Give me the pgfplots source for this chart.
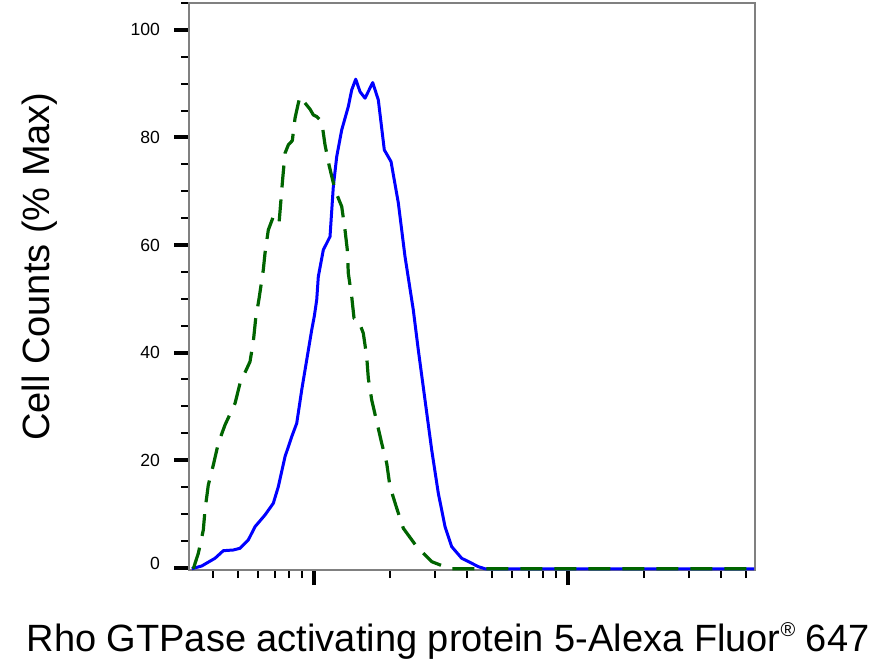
\documentclass[border=0pt]{standalone}
\usepackage{fontspec}
\setmainfont{Liberation Sans}
\usepackage{pgfplots}
\pgfplotsset{compat=1.18}
\definecolor{axgray}{RGB}{128,128,128}
\definecolor{dgreen}{RGB}{0,100,0}
\definecolor{pblue}{RGB}{0,0,255}
\begin{document}
\begin{tikzpicture}
\useasboundingbox (-94.5pt,-47pt) rectangle (346.5pt,285pt);
\begin{axis}[
  at={(0,0)}, anchor=south west,
  scale only axis, width=283pt, height=283.5pt,
  xmode=log, xmin=322, xmax=54480,
  ymin=-0.43, ymax=105,
  axis line style={axgray, line width=1pt},
  tick align=outside,
  tick pos=left,
  xtick={1000,10000},
  minor xtick={400,500,600,700,800,900,2000,3000,4000,5000,6000,7000,8000,9000,20000,30000,40000,50000},
  xticklabel=\empty,
  ytick={0,20,40,60,80,100},
  yticklabels={\raisebox{4.5pt}{0},20,40,60,80,100},
  minor ytick={5,10,15,25,30,35,45,50,55,65,70,75,85,90,95,105},
  major tick length=7.5pt, minor tick length=4pt,
  major tick style={black, line width=2pt},
  minor tick style={black, line width=1pt},
  yticklabel style={font=\fontsize{8.8}{10}\selectfont, xshift=-3.5pt},
  clip=false,
]
\addplot[pblue, line width=1.5pt, line join=round] coordinates {
(330,-0.2) (361.4,0.32) (407.6,1.75) (439.4,3.16) (481.2,3.29) (511.3,3.61)
(551.1,5.15) (585.7,7.62) (641.3,9.80) (691.5,11.98) (723.5,15.06) (768.8,20.64)
(817.0,24.36) (855.0,26.86) (894.6,33.05) (936.0,38.63) (979.3,44.21) (1003,46.8)
(1024.7,49.79) (1039.7,54.12) (1087.9,59.08) (1156.1,61.56) (1191.2,70.86)
(1228.5,76.44) (1285.5,81.40) (1364.6,85.74) (1407.4,88.84) (1459.5,90.83)
(1517.5,88.5) (1587.9,87.30) (1702.6,90.20) (1791.2,86.98) (1891.5,77.68)
(2010,75.51) (2147.3,67.83) (2281.8,57.84) (2459.7,47.93) (2573.8,40.49)
(2735.1,31.19) (2906.5,21.89) (3085.7,13.84) (3280.4,7.62) (3484.5,3.91)
(3814.6,1.75) (4178,0.82) (4436,0.19) (4712,-0.2) (54000,-0.2)
};
\addplot[dgreen, line width=1.6pt, dash pattern=on 11pt off 6pt, line join=round] coordinates {
(334.8,-0.2) (350.4,2.68) (366.6,7.01) (372.3,10.73) (383.6,15.38) (401.4,19.10)
(420.0,23.14) (446.2,26.54) (488.7,30.57) (511.3,34.29) (559.8,38.31) (576.8,42.03)
(589.5,46.38) (607.4,50.0) (631.5,55.37) (641.3,58.47) (660.8,62.80) (691.5,65.28)
(728.3,64.05) (753.2,72.42) (768.8,77.07) (792.2,78.61) (821.5,79.41) (841.8,83.58)
(867.4,86.37) (881.0,87.60) (921.7,86.4) (964.5,85.25) (993.6,84.19) (1024.7,83.88)
(1072.3,82.95) (1104.9,78.61) (1145.6,74.89) (1209.7,70.24) (1285.5,67.14)
(1324.4,62.80) (1352.5,59.08) (1364.6,54.75) (1407.4,50.40) (1437.2,46.38)
(1494.2,46.07) (1563.4,43.59) (1612.4,39.24) (1636.0,35.22) (1687.3,31.19)
(1765.6,27.15) (1847.3,23.14) (1933.0,19.42) (1991.8,15.06) (2116.9,11.05)
(2247,7.33) (2537,3.91) (2906.5,1.12) (3431,-0.2) (54000,-0.2)
};
\node[rotate=90, anchor=base, font=\fontsize{19}{22}\selectfont] at (rel axis cs:-0.2456,0.5353) {Cell Counts (\% Max)};
\node[anchor=base, font=\fontsize{19}{22}\selectfont] at (rel axis cs:0.4576,-0.1446) {Rho GTPase activating protein 5-Alexa Fluor\raisebox{0.42em}{\fontsize{10}{10}\selectfont ®} 647};
\end{axis}
\end{tikzpicture}
\end{document}
